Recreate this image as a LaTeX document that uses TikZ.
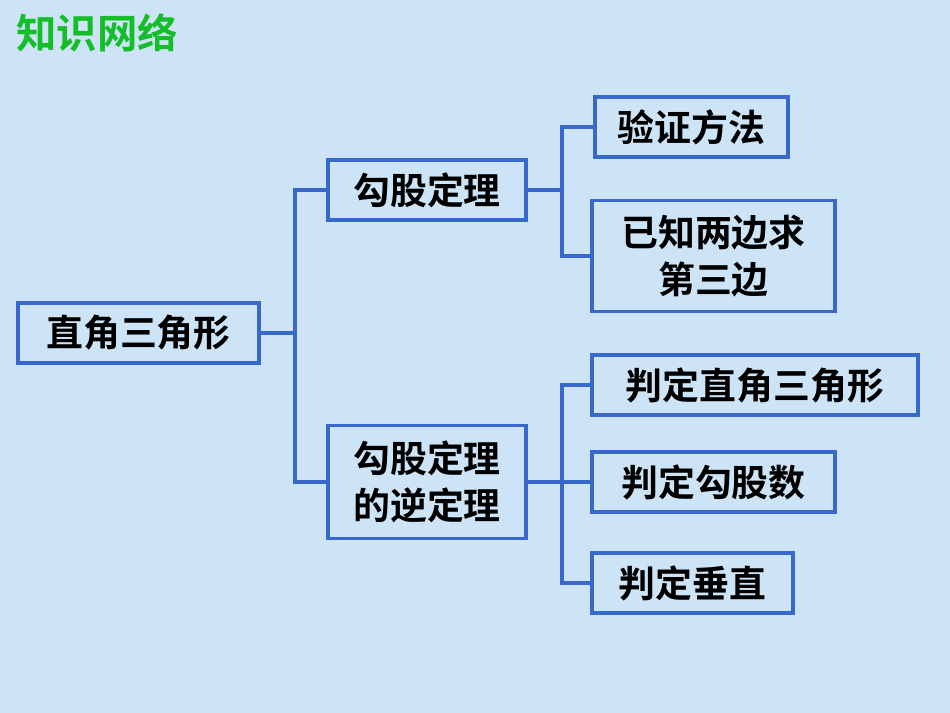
\documentclass[tikz,border=0pt]{standalone}
\usepackage{fontspec}
\newfontfamily\cjk{Noto Sans CJK SC Bold}
\definecolor{bg}{RGB}{205,228,246}
\definecolor{ln}{RGB}{55,105,205}
\definecolor{ttl}{RGB}{20,190,40}
\begin{document}
\begin{tikzpicture}[x=0.02cm,y=-0.02cm,
  bx/.style={draw=ln,line width=2pt,fill=none,inner sep=0pt,font=\cjk\fontsize{21}{27}\selectfont,align=center},
  cn/.style={draw=ln,line width=2pt}]
\fill[bg] (0,0) rectangle (950,713);
\useasboundingbox (0,0) rectangle (950,713);
\node[font=\cjk\fontsize{23}{26}\selectfont,text=ttl,anchor=west] (t) at (10,33) {知识网络};
\node[bx,minimum width=241*0.02cm,minimum height=60*0.02cm] (r) at (138.5,333) {直角三角形};
\node[bx,minimum width=198*0.02cm,minimum height=60*0.02cm] (a) at (427,190) {勾股定理};
\node[bx,minimum width=198*0.02cm,minimum height=113*0.02cm] (b) at (427,482) {勾股定理\\的逆定理};
\node[bx,minimum width=193*0.02cm,minimum height=60*0.02cm] (a1) at (691.5,127) {验证方法};
\node[bx,minimum width=243*0.02cm,minimum height=111*0.02cm] (a2) at (713.5,256) {已知两边求\\第三边};
\node[bx,minimum width=326*0.02cm,minimum height=60*0.02cm] (b1) at (755,385) {判定直角三角形};
\node[bx,minimum width=243*0.02cm,minimum height=60*0.02cm] (b2) at (713.5,482) {判定勾股数};
\node[bx,minimum width=201*0.02cm,minimum height=60*0.02cm] (b3) at (692.5,583) {判定垂直};
\coordinate (j0) at (295,333);
\coordinate (j1) at (562,190);
\coordinate (j2) at (562,482);
\draw[cn] (r.east) -- (j0);
\draw[cn] (a.west) -| (j0) |- (b.west);
\draw[cn] (a.east) -- (j1);
\draw[cn] (a1.west) -| (j1) |- (a2.west);
\draw[cn] (b.east) -- (b2.west);
\draw[cn] (b1.west) -| (j2) |- (b3.west);
\end{tikzpicture}
\end{document}
